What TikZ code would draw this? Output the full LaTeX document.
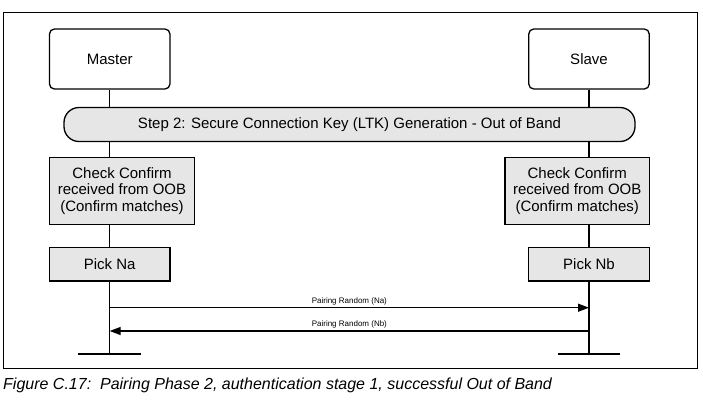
\documentclass[tikz,border=0pt]{standalone}
\usepackage{fontspec}
\setmainfont{Liberation Sans}
\usetikzlibrary{arrows.meta,backgrounds}
\definecolor{boxgray}{HTML}{E6E6E6}
\tikzset{
  role/.style={draw,line width=1.3pt,rounded corners=5pt,
    minimum width=120.5pt,minimum height=60pt,inner sep=0pt},
  stepbar/.style={draw,line width=1.3pt,fill=boxgray,rounded corners=15pt,
    minimum width=571pt,minimum height=34pt,inner sep=0pt},
  action/.style={draw,line width=1.3pt,fill=boxgray,align=center,
    minimum width=144.5pt,minimum height=66.6pt,inner sep=0pt},
  pick/.style={draw,line width=1.3pt,fill=boxgray,
    minimum width=120.5pt,minimum height=33.3pt,inner sep=0pt},
  msg/.style={line width=1.3pt,-{Triangle[length=11pt,width=8pt]}},
  msglabel/.style={font=\fontsize{8}{9}\selectfont,above,inner sep=2pt},
  lifeline/.style={line width=1.3pt},
  stopbar/.style={line width=2.8pt}
}
\begin{document}
\begin{tikzpicture}[x=1pt,y=-1pt,font=\fontsize{15}{16.4}\selectfont]
\useasboundingbox (0,0) rectangle (703,400);
\draw[line width=1pt] (3,12.5) rectangle (697,368);
% participants
\node[role] (master) at (109.7,59) {Master};
\node[role] (slave) at (589,59) {Slave};
\node[stepbar] (step) at (349.5,124.5)
  {Step 2: Secure Connection Key (LTK) Generation - Out of Band};
\node[action] (checkA) at (122,191)
  {Check Confirm\\received from OOB\\(Confirm matches)};
\node[action] (checkB) at (577.2,191)
  {Check Confirm\\received from OOB\\(Confirm matches)};
\node[pick] (pickA) at (109.7,264.3) {Pick Na};
\node[pick] (pickB) at (589,264.3) {Pick Nb};
% ends of the lifelines
\coordinate (endA) at (109.7,354);
\coordinate (endB) at (589,354);
\begin{pgfonlayer}{background}
\draw[lifeline] (master.south) -- (endA);
\draw[lifeline] (slave.south) -- (endB);
\end{pgfonlayer}
\draw[stopbar] (endA) ++(-31.5,0) -- ++(63,0);
\draw[stopbar] (endB) ++(-31,0) -- ++(62,0);
% messages
\coordinate (a1) at (109.7,307.7);
\coordinate (b1) at (589,307.7);
\coordinate (a2) at (109.7,331);
\coordinate (b2) at (589,331);
\draw[msg] (a1) -- node[msglabel] {Pairing Random (Na)} (b1);
\draw[msg] (b2) -- node[msglabel] {Pairing Random (Nb)} (a2);
\node[anchor=west,inner sep=0pt,font=\fontsize{16}{18}\selectfont\itshape]
  (caption) at (3,385)
  {Figure C.17:\ \ Pairing Phase 2, authentication stage 1, successful Out of Band};
\end{tikzpicture}
\end{document}
